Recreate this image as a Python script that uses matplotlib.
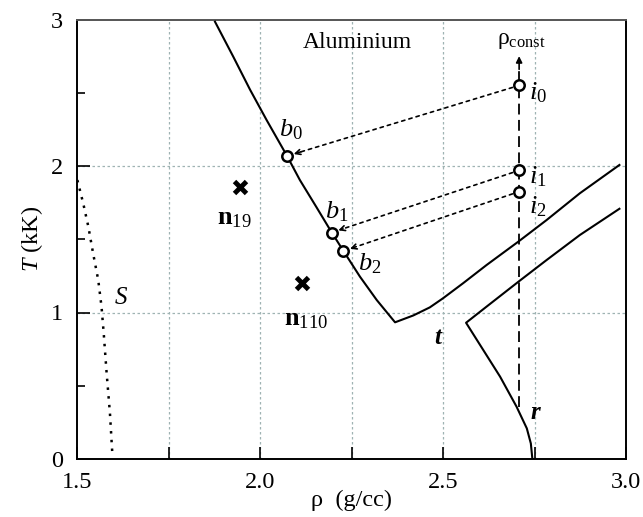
import matplotlib
matplotlib.use("Agg")
import matplotlib.pyplot as plt
import numpy as np

plt.rcParams['font.family'] = ['Liberation Serif', 'DejaVu Serif']
plt.rcParams['mathtext.fontset'] = 'custom'
plt.rcParams['mathtext.rm'] = 'Liberation Serif'
plt.rcParams['mathtext.it'] = 'Liberation Serif:italic'
plt.rcParams['mathtext.bf'] = 'Liberation Serif:bold'

# b branch then t branch (one continuous curve)
main_rho = [1.877, 1.927, 1.973, 2.018, 2.074, 2.109, 2.154, 2.196, 2.228, 2.273, 2.319, 2.369,
            2.419, 2.464, 2.500, 2.555, 2.619, 2.706, 2.783, 2.874, 2.982]
main_T   = [2.985, 2.746, 2.520, 2.314, 2.068, 1.904, 1.720, 1.546, 1.420, 1.245, 1.085, 0.933,
            0.980, 1.035, 1.097, 1.200, 1.324, 1.484, 1.631, 1.814, 2.007]
# r curve
r_rho = [2.982, 2.874, 2.783, 2.706, 2.619, 2.563, 2.610, 2.656, 2.701, 2.729, 2.740, 2.744]
r_T   = [1.708, 1.529, 1.358, 1.210, 1.040, 0.930, 0.744, 0.562, 0.357, 0.209, 0.106, 0.005]
# S curve (dotted)
s_rho = [1.501, 1.517, 1.531, 1.544, 1.558, 1.567, 1.573, 1.581, 1.590, 1.597]
s_T   = [1.904, 1.745, 1.586, 1.404, 1.222, 1.040, 0.858, 0.585, 0.312, 0.016]

rho_const = 2.708
i_T = [2.55, 1.97, 1.825]
b_rho = [2.074, 2.196, 2.228]
b_T = [2.068, 1.546, 1.42]
i_labels = ['$i_0$', '$i_1$', '$i_2$']
b_labels = ['$b_0$', '$b_1$', '$b_2$']

n_rho = [1.945, 2.115]
n_T = [1.86, 1.20]
n_labels = [r'$\mathbf{n}_{19}$', r'$\mathbf{n}_{110}$']

fig = plt.figure(figsize=(6.43, 5.17), dpi=100)
ax = fig.add_axes([77/643, 1-459/517, 549/643, 439.5/517])

ax.set_xlim(1.5, 3.0)
ax.set_ylim(0, 3)
ax.set_xticks([1.5, 1.75, 2.0, 2.25, 2.5, 2.75, 3.0])
ax.set_xticklabels(['1.5', '', '2.0', '', '2.5', '', '3.0'])
ax.set_yticks([0, 1, 2, 3])
ax.set_yticks([0.5, 1.5, 2.5], minor=True)
ax.tick_params(direction='in', labelsize=17.5, length=9, width=1.2, pad=10)
ax.tick_params(which='minor', direction='in', length=6, width=1.2)
ax.tick_params(axis='x', pad=9)

for x in [1.75, 2.0, 2.25, 2.5, 2.75]:
    ax.axvline(x, color='#9fb3b3', lw=0.9, ls=(0, (2, 2)), zorder=0)
for y in [1, 2]:
    ax.axhline(y, color='#9fb3b3', lw=0.9, ls=(0, (2, 2)), zorder=0)

for s in ax.spines.values():
    s.set_linewidth(1.4)
ax.spines['top'].set_color('#555555')

ax.plot(main_rho, main_T, color='black', lw=1.5, zorder=3)
ax.plot(r_rho, r_T, color='black', lw=1.5, zorder=3)
ax.plot(s_rho, s_T, color='black', lw=1.8, ls=(0, (1, 2.5)), zorder=3)

# constant density dashed line with arrow
ax.plot([rho_const, rho_const], [0.355, 2.68], color='black', lw=1.3, ls=(0, (6, 3)), zorder=2)
ax.annotate('', xy=(rho_const, 2.75), xytext=(rho_const, 2.66),
            arrowprops=dict(arrowstyle='-|>', color='black', lw=1.2,
                            mutation_scale=9, shrinkA=0, shrinkB=0))

# dotted arrows from i to b
for iT, bx, bT in zip(i_T, b_rho, b_T):
    ax.annotate('', xy=(bx, bT), xytext=(rho_const, iT),
                arrowprops=dict(arrowstyle='-', color='black', lw=1.2,
                                ls=(0, (2, 2.5)), shrinkA=5, shrinkB=8))
    d = np.array([rho_const - bx, iT - bT])
    ax.annotate('', xy=(bx, bT), xytext=(bx + d[0] * 0.06, bT + d[1] * 0.06),
                arrowprops=dict(arrowstyle='->', color='black', lw=1.2,
                                mutation_scale=9, shrinkA=0, shrinkB=5))

ax.plot([rho_const] * 3, i_T, 'o', ms=7.5, mfc='white', mec='black', mew=1.8, zorder=5)
ax.plot(b_rho, b_T, 'o', ms=7.5, mfc='white', mec='black', mew=1.8, zorder=5)

ax.plot(n_rho, n_T, 'x', ms=9, mew=3.5, color='black', zorder=5)

fs = 19
ax.text(rho_const + 0.028, 2.50, i_labels[0], fontsize=fs, ha='left', va='center')
ax.text(rho_const + 0.028, 1.93, i_labels[1], fontsize=fs, ha='left', va='center')
ax.text(rho_const + 0.028, 1.72, i_labels[2], fontsize=fs, ha='left', va='center')
ax.text(2.085, 2.25, b_labels[0], fontsize=fs, ha='center', va='center')
ax.text(2.21, 1.69, b_labels[1], fontsize=fs, ha='center', va='center')
ax.text(2.30, 1.33, b_labels[2], fontsize=fs, ha='center', va='center')
ax.text(1.93, 1.64, n_labels[0], fontsize=fs, ha='center', va='center')
ax.text(2.125, 0.95, n_labels[1], fontsize=fs, ha='center', va='center')

ax.text(2.266, 2.84, 'Aluminium', fontsize=17, ha='center', va='center')
ax.text(rho_const + 0.005, 2.86, r'$\mathrm{\rho}_{\mathrm{const}}$', fontsize=17, ha='center', va='center')
ax.text(2.486, 0.83, 't', fontsize=18, ha='center', va='center', fontweight='bold', fontstyle='italic')
ax.text(2.751, 0.32, 'r', fontsize=18, ha='center', va='center', fontweight='bold', fontstyle='italic')
ax.text(1.62, 1.10, '$S$', fontsize=18, ha='center', va='center')

ax.set_xlabel('ρ  (g/cc)', fontsize=17.5, labelpad=-2)
ax.set_ylabel('$T$ (kK)', fontsize=17.5, labelpad=4)

fig.savefig('out.png', dpi=100)
